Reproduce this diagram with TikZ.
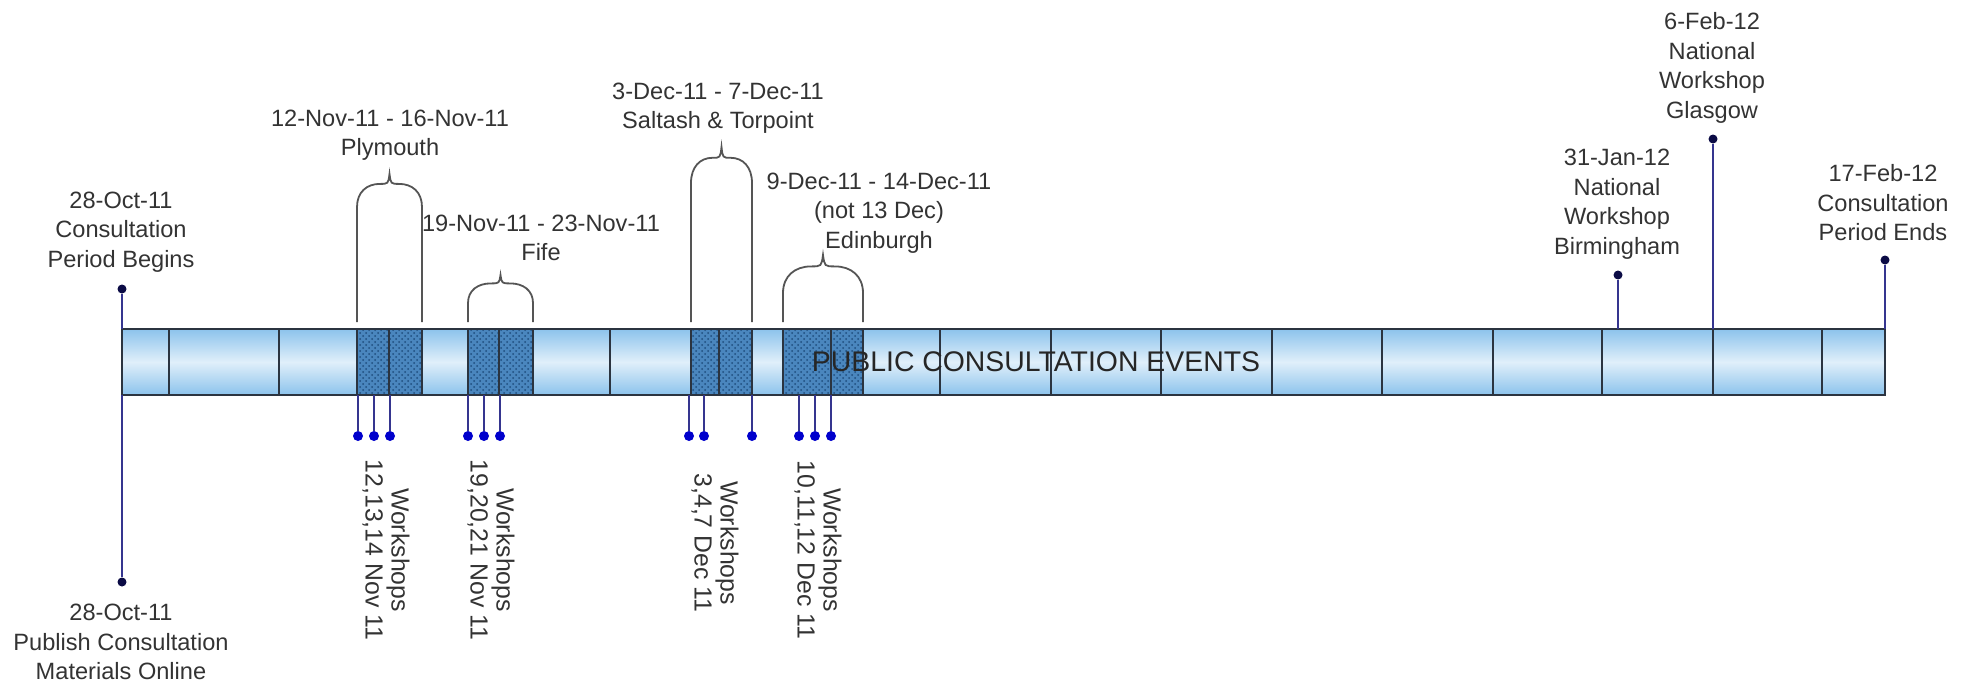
\documentclass[tikz,border=0pt]{standalone}
\usepackage{fontspec}
\setmainfont{Liberation Sans}
\usetikzlibrary{patterns}

\definecolor{txtgray}{HTML}{333333}
\definecolor{barblue}{HTML}{8CC3EC}
\definecolor{barlight}{HTML}{E0EFFA}
\definecolor{wsblue}{HTML}{4A86BE}
\definecolor{wsdots}{HTML}{1F4E7E}
\definecolor{stemblue}{HTML}{35358F}
\definecolor{dotnavy}{HTML}{0B0B45}
\definecolor{dotblue}{HTML}{0000CC}
\definecolor{bracegray}{HTML}{555555}
\definecolor{edgegray}{HTML}{2B3440}

\tikzset{
  lbl/.style={text=txtgray, align=center, inner sep=0pt, font={\fontsize{11.8pt}{14.75pt}\selectfont}},
  wslbl/.style={lbl, rotate=-90, font={\fontsize{12.4pt}{13pt}\selectfont}},
  stem/.style={draw=stemblue, line width=1pt},
  topdot/.style={circle, fill=dotnavy, inner sep=0pt, minimum size=4.5pt},
  wsdot/.style={circle, fill=dotblue, inner sep=0pt, minimum size=5pt},
  brace/.style={draw=bracegray, line width=0.9pt},
  divider/.style={draw=edgegray, line width=0.8pt},
  wszone/.style={fill=wsblue, postaction={pattern=crosshatch dots, pattern color=wsdots}}
}

% brace over a workshop period: x left, x right, side top, tip
\newcommand{\wsbrace}[4]{%
  \pgfmathsetmacro{\brXm}{(#1+#2)/2}%
  \pgfmathsetmacro{\brW}{#2-#1}%
  \pgfmathsetmacro{\brS}{#3-0.7*(#3-#4)}%
  \pgfmathsetmacro{\brC}{#3-0.45*(#3-#4)}%
  \draw[brace] (#1,322) -- (#1,#3)
    .. controls (#1,\brC) and (\brXm-0.35*\brW,\brS) .. (\brXm-0.15*\brW,\brS)
    .. controls (\brXm-0.02*\brW,\brS) .. (\brXm,#4)
    .. controls (\brXm+0.02*\brW,\brS) .. (\brXm+0.15*\brW,\brS)
    .. controls (\brXm+0.35*\brW,\brS) and (#2,\brC) .. (#2,#3) -- (#2,322);
}

\begin{document}
\begin{tikzpicture}[x=0.5pt, y=-0.5pt]
    \useasboundingbox (0,0) rectangle (1975,681);
    % the time bar
    \coordinate (barN) at (0,329);
    \coordinate (barS) at (0,395);
    \shade[top color=barblue, bottom color=barblue, middle color=barlight] (122,329) rectangle (1885,395);
    % workshop periods
    \fill[wszone] (357,329) rectangle (422,395);
    \fill[wszone] (468,329) rectangle (533,395);
    \fill[wszone] (691,329) rectangle (752,395);
    \fill[wszone] (783,329) rectangle (863,395);
    \foreach \x in {169,279,357,389,422,468,499,533,610,691,719,752,783,831,863,940,1051,1161,1272,1382,1493,1602,1713,1822}
      \draw[divider] (\x,329) -- (\x,395);
    \draw[edgegray, line width=1pt] (122,329) rectangle (1885,395);
    \node[text=black!85, inner sep=0pt, font={\fontsize{14.2pt}{16pt}\selectfont}] (events) at (1036,362) {PUBLIC CONSULTATION EVENTS};
    % braces
    \wsbrace{357}{422}{207}{174}
    \wsbrace{468}{533}{303}{275}
    \wsbrace{691}{752}{183}{147}
    \wsbrace{783}{863}{293}{255}
    % milestones
    \node[topdot] (begdot) at (122,289) {};
    \node[topdot] (pubdot) at (122,582) {};
    \node[topdot] (birdot) at (1618,275) {};
    \node[topdot] (glasdot) at (1713,139) {};
    \node[topdot] (enddot) at (1885,260) {};
    \draw[stem] (begdot) -- (begdot |- barN);
    \draw[stem] (pubdot) -- (pubdot |- barS);
    \draw[stem] (birdot) -- (birdot |- barN);
    \draw[stem] (glasdot) -- (glasdot |- barN);
    \draw[stem] (enddot) -- (enddot |- barN);
    % workshop days
    \node[wsdot] (nov12) at (358,436) {};
    \node[wsdot] (nov13) at (374,436) {};
    \node[wsdot] (nov14) at (390,436) {};
    \node[wsdot] (nov19) at (468,436) {};
    \node[wsdot] (nov20) at (484,436) {};
    \node[wsdot] (nov21) at (500,436) {};
    \node[wsdot] (dec3) at (689,436) {};
    \node[wsdot] (dec4) at (704,436) {};
    \node[wsdot] (dec7) at (752,436) {};
    \node[wsdot] (dec10) at (799,436) {};
    \node[wsdot] (dec11) at (815,436) {};
    \node[wsdot] (dec12) at (831,436) {};
    \draw[stem] (nov12) -- (nov12 |- barS);
    \draw[stem] (nov13) -- (nov13 |- barS);
    \draw[stem] (nov14) -- (nov14 |- barS);
    \draw[stem] (nov19) -- (nov19 |- barS);
    \draw[stem] (nov20) -- (nov20 |- barS);
    \draw[stem] (nov21) -- (nov21 |- barS);
    \draw[stem] (dec3) -- (dec3 |- barS);
    \draw[stem] (dec4) -- (dec4 |- barS);
    \draw[stem] (dec7) -- (dec7 |- barS);
    \draw[stem] (dec10) -- (dec10 |- barS);
    \draw[stem] (dec11) -- (dec11 |- barS);
    \draw[stem] (dec12) -- (dec12 |- barS);
    % labels
    \node[lbl] (begins) at (121,232) {28-Oct-11\\Consultation\\Period Begins};
    \node[lbl] (publish) at (121,642) {28-Oct-11\\Publish Consultation\\Materials Online};
    \node[lbl] (plymouth) at (390,135) {12-Nov-11 - 16-Nov-11\\Plymouth};
    \node[lbl] (fife) at (541,238) {19-Nov-11 - 23-Nov-11\\Fife};
    \node[lbl] (saltash) at (718,108) {3-Dec-11 - 7-Dec-11\\Saltash \& Torpoint};
    \node[lbl] (edinburgh) at (879,213) {9-Dec-11 - 14-Dec-11\\(not 13 Dec)\\Edinburgh};
    \node[lbl] (birmingham) at (1617,204) {31-Jan-12\\National\\Workshop\\Birmingham};
    \node[lbl] (glasgow) at (1712,68) {6-Feb-12\\National\\Workshop\\Glasgow};
    \node[lbl] (ends) at (1883,203) {17-Feb-12\\Consultation\\Period Ends};
    \node[wslbl] (wsPly) at (386,550) {Workshops\\12,13,14 Nov 11};
    \node[wslbl] (wsFife) at (491,550) {Workshops\\19,20,21 Nov 11};
    \node[wslbl] (wsSalt) at (715,543) {Workshops\\3,4,7 Dec 11};
    \node[wslbl] (wsEdin) at (818,550) {Workshops\\10,11,12 Dec 11};
\end{tikzpicture}
\end{document}
